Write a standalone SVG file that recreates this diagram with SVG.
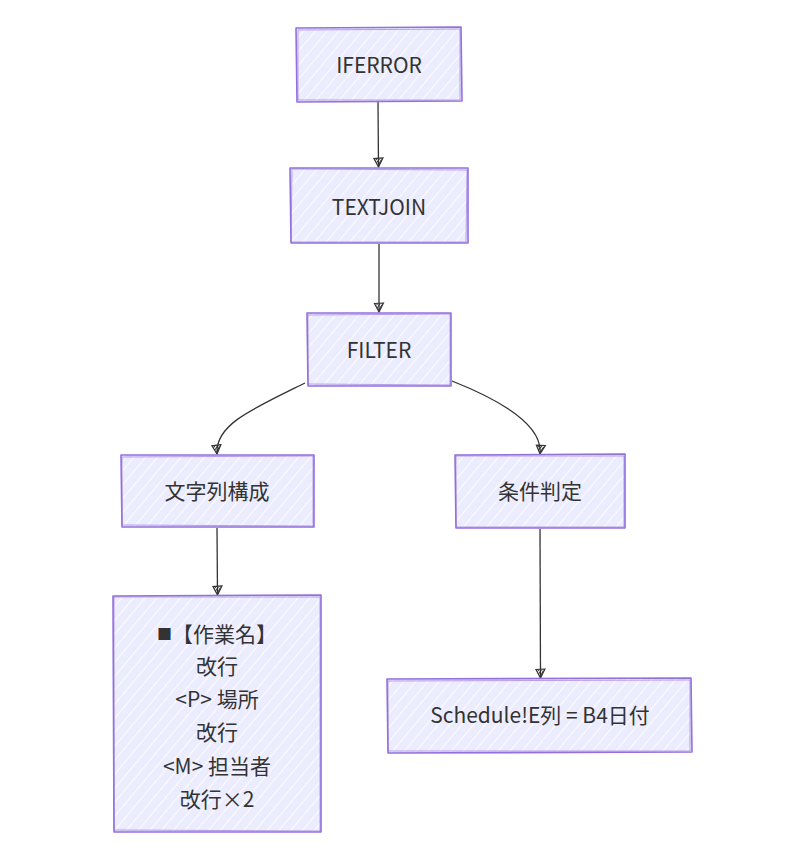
<svg xmlns="http://www.w3.org/2000/svg" width="789" height="856" viewBox="0 0 789 856">
<defs>
<pattern id="hatch" patternUnits="userSpaceOnUse" width="9" height="9" patternTransform="rotate(40)">
<rect width="9" height="9" fill="#ECECFF"/>
<line x1="0" y1="0" x2="0" y2="9" stroke="#ffffff" stroke-width="2.2" opacity="0.8"/>
</pattern>
<marker id="arr" viewBox="0 0 12 12" refX="11" refY="6" markerWidth="12" markerHeight="12" orient="auto" markerUnits="userSpaceOnUse">
<path d="M2,1.5 L2.5,10.5 L11,6 Z" fill="none" stroke="#333" stroke-width="1.2"/>
<path d="M3.5,3 L9,6 M3,5 L7,8 M3,7.5 L4.5,9" stroke="#333" stroke-width="1"/>
</marker>
</defs>
<style>
.n{fill:url(#hatch);stroke:#9370DB;stroke-width:1.6;stroke-linejoin:round}
.n2{fill:none;stroke:#9370DB;stroke-width:0.9;opacity:0.7}
.t{font-family:"Noto Sans CJK JP","Noto Sans",sans-serif;font-size:21px;fill:#333;text-anchor:middle;dominant-baseline:central}
.sq{font-size:15px}
.e{fill:none;stroke:#333;stroke-width:1.3;marker-end:url(#arr)}
</style>
<rect width="789" height="856" fill="#fff"/>
<g id="edges">
<path class="e" d="M378,102 L378.5,167"/>
<path class="e" d="M379,244 L379,312"/>
<path class="e" d="M305,383 C250,410 215,425 217,454"/>
<path class="e" d="M452,381 C500,400 543,425 540,454"/>
<path class="e" d="M217,528 L217.5,595"/>
<path class="e" d="M540,529 L540.5,678"/>
</g>
<g id="IFERROR">
<path class="n" d="M296,28 L461,27 L462,101 L297,102 Z"/>
<path class="n2" d="M298,30 L460,29 L460,100 L298,100 Z"/>
<text class="t" x="379" y="64">IFERROR</text>
</g>
<g id="TEXTJOIN">
<path class="n" d="M290,168 L468,168 L468,243 L291,243 Z"/>
<path class="n2" d="M292,169 L467,170 L466,242 L291,242 Z"/>
<text class="t" x="379" y="206">TEXTJOIN</text>
</g>
<g id="FILTER">
<path class="n" d="M307,313 L451,313 L451,386 L308,386 Z"/>
<path class="n2" d="M308,315 L450,314 L450,385 L308,384 Z"/>
<text class="t" x="379" y="349">FILTER</text>
</g>
<g id="moji">
<path class="n" d="M121,455 L314,455 L314,527 L122,527 Z"/>
<path class="n2" d="M122,457 L313,456 L313,526 L122,525 Z"/>
<text class="t" x="217" y="490">文字列構成</text>
</g>
<g id="jouken">
<path class="n" d="M455,455 L625,454 L625,528 L456,528 Z"/>
<path class="n2" d="M456,456 L624,456 L624,527 L456,527 Z"/>
<text class="t" x="540" y="490">条件判定</text>
</g>
<g id="format">
<path class="n" d="M113,596 L321,595 L321,832 L114,832 Z"/>
<path class="n2" d="M114,597 L320,597 L320,831 L114,830 Z"/>
<text class="t" x="217" y="633"><tspan class="sq">■</tspan>【作業名】</text>
<text class="t" x="217" y="665">改行</text>
<text class="t" x="217" y="698">&lt;P&gt; 場所</text>
<text class="t" x="217" y="731">改行</text>
<text class="t" x="217" y="765">&lt;M&gt; 担当者</text>
<text class="t" x="217" y="798">改行×2</text>
</g>
<g id="schedule">
<path class="n" d="M387,679 L691,678 L692,752 L388,753 Z"/>
<path class="n2" d="M388,681 L690,680 L690,751 L388,751 Z"/>
<text class="t" x="540" y="714">Schedule!E列 = B4日付</text>
</g>
</svg>
